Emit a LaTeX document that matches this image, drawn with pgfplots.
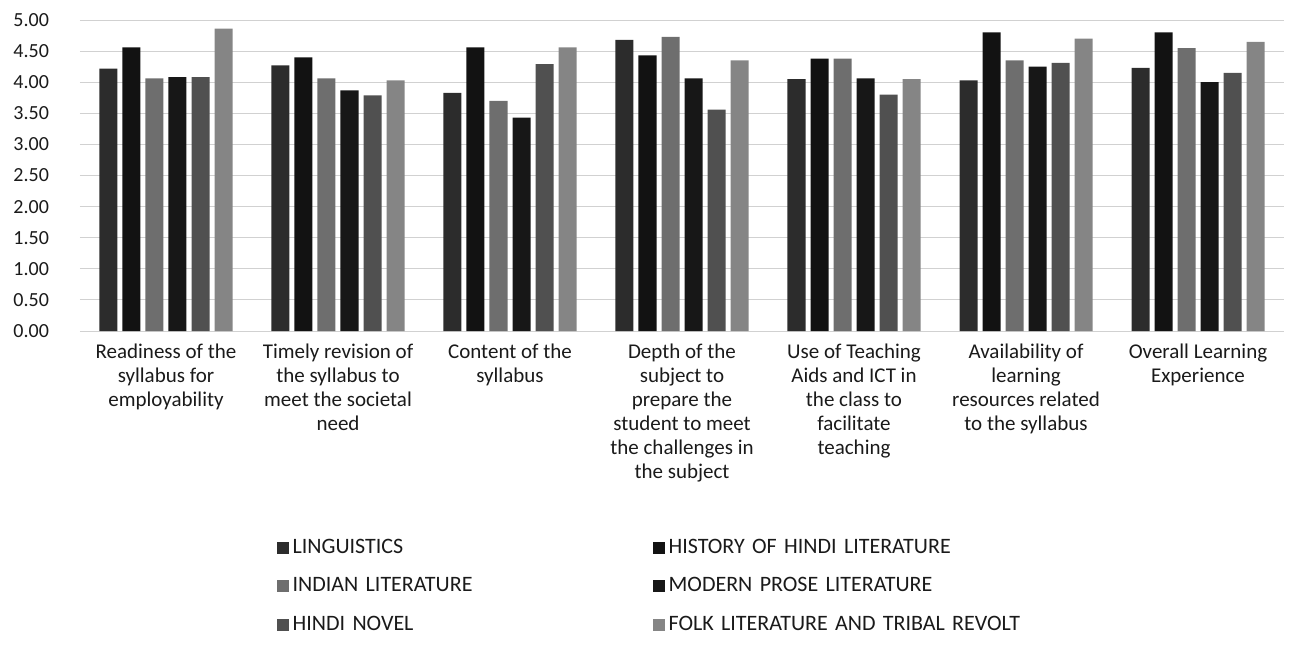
\documentclass[border=0pt]{standalone}
\usepackage{pgfplots}
\pgfplotsset{compat=1.18}
\usepackage{fontspec}
\setmainfont{Carlito}
\definecolor{cA}{HTML}{2C2C2C}
\definecolor{cB}{HTML}{121212}
\definecolor{cC}{HTML}{6E6E6E}
\definecolor{cD}{HTML}{171717}
\definecolor{cE}{HTML}{505050}
\definecolor{cF}{HTML}{858585}
\definecolor{txt}{HTML}{1A1A1A}
\begin{document}
\begin{tikzpicture}
\useasboundingbox (-40pt,-159pt) rectangle (612pt,165.5pt);
\begin{axis}[
  at={(0,0)}, anchor=south west,
  scale only axis, width=602pt, height=155.5pt,
  ybar=2.5pt, bar width=9pt,
  xmin=-0.5, xmax=6.5, ymin=0, ymax=5,
  xtick={0,1,2,3,4,5,6},
  xticklabels={
    {Readiness of the\\syllabus for\\employability},
    {Timely revision of\\the syllabus to\\meet the societal\\need},
    {Content of the\\syllabus},
    {Depth of the\\subject to\\prepare the\\student to meet\\the challenges in\\the subject},
    {Use of Teaching\\Aids and ICT in\\the class to\\facilitate\\teaching},
    {Availability of\\learning\\resources related\\to the syllabus},
    {Overall Learning\\Experience}},
  xticklabel style={align=center, font=\fontsize{10.5}{12}\selectfont, text=txt, anchor=north, yshift=-3pt},
  ytick={0,0.5,1,1.5,2,2.5,3,3.5,4,4.5,5},
  /pgf/number format/assume math mode=true,
  yticklabel style={/pgf/number format/fixed, /pgf/number format/precision=2, /pgf/number format/fixed zerofill, font=\fontsize{10}{12}\selectfont, text=txt, xshift=-12pt},
  ymajorgrids, grid style={draw=black!18, line width=0.5pt},
  axis line style={draw=none},
  major tick length=0pt,
  legend columns=2,
  legend cell align=left,
  legend style={at={(0.158,-0.643)}, anchor=north west, draw=none, fill=none,
    font=\fontsize{11}{13}\selectfont, text=txt, row sep=6.5pt,
    /tikz/every even column/.append style={text width=178pt}},
  legend image code/.code={\fill[#1] (0pt,-3pt) rectangle (6pt,3pt);},
]
\addplot[fill=cA, draw=none] coordinates {(0,4.22) (1,4.27) (2,3.83) (3,4.68) (4,4.05) (5,4.03) (6,4.23)};
\addplot[fill=cB, draw=none] coordinates {(0,4.56) (1,4.40) (2,4.56) (3,4.43) (4,4.38) (5,4.80) (6,4.80)};
\addplot[fill=cC, draw=none] coordinates {(0,4.06) (1,4.06) (2,3.70) (3,4.73) (4,4.38) (5,4.35) (6,4.55)};
\addplot[fill=cD, draw=none] coordinates {(0,4.08) (1,3.87) (2,3.43) (3,4.06) (4,4.06) (5,4.25) (6,4.00)};
\addplot[fill=cE, draw=none] coordinates {(0,4.08) (1,3.79) (2,4.29) (3,3.56) (4,3.80) (5,4.31) (6,4.15)};
\addplot[fill=cF, draw=none] coordinates {(0,4.86) (1,4.03) (2,4.56) (3,4.35) (4,4.05) (5,4.70) (6,4.65)};
\legend{LINGUISTICS, HISTORY OF HINDI LITERATURE, INDIAN LITERATURE, MODERN PROSE LITERATURE, HINDI NOVEL, FOLK LITERATURE AND TRIBAL REVOLT}
\end{axis}
\end{tikzpicture}
\end{document}
